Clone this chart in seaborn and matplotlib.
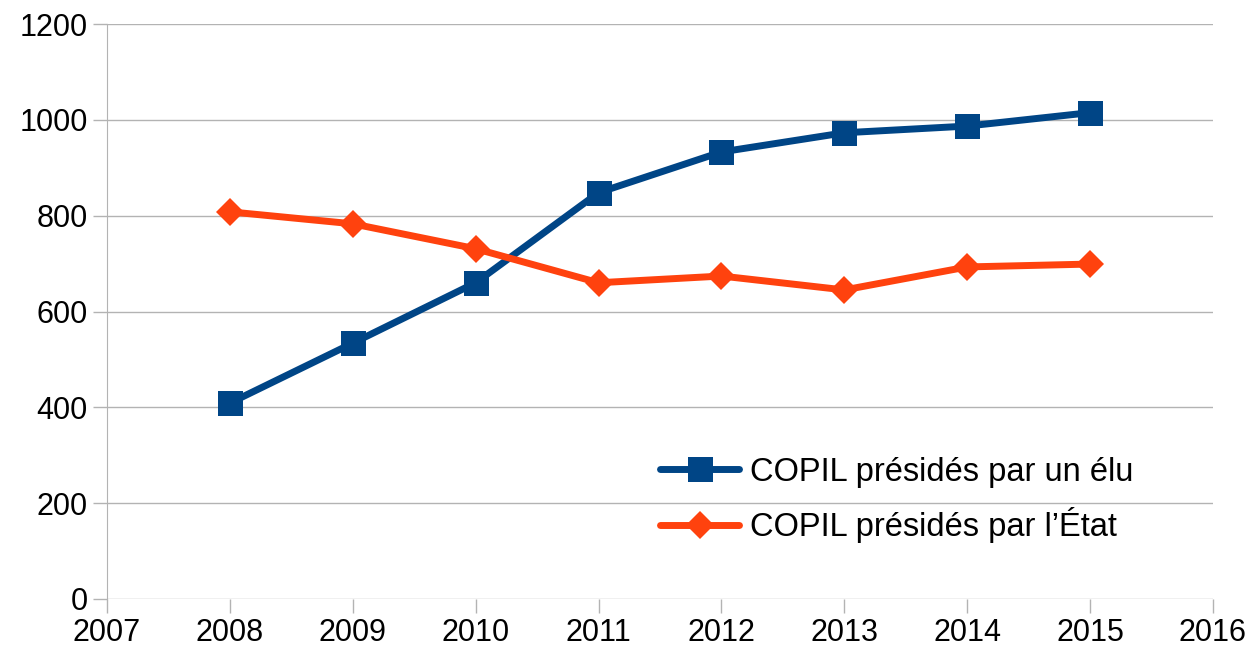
import matplotlib
matplotlib.use('Agg')
import matplotlib.pyplot as plt
import seaborn as sbn
import pandas as pd

years = [2008, 2009, 2010, 2011, 2012, 2013, 2014, 2015]
elu = [409, 534, 660, 848, 933, 973, 987, 1015]
etat = [808, 783, 731, 660, 674, 645, 693, 699]
labels = ['COPIL présidés par un élu', 'COPIL présidés par l\u2019État']

df = pd.DataFrame({'year': years + years,
                   'value': elu + etat,
                   'serie': [labels[0]] * len(years) + [labels[1]] * len(years)})

sbn.set_style('white')
plt.rcParams['font.family'] = ['Liberation Sans', 'DejaVu Sans']
plt.rcParams['text.color'] = 'black'

fig = plt.figure(figsize=(12.55, 6.51), dpi=100)
ax = fig.add_axes([107/1255, 1 - 599/651, (1213 - 107)/1255, (599 - 24)/651])

sbn.lineplot(data=df, x='year', y='value', hue='serie', style='serie',
             palette=['#004586', '#ff420e'], markers=['s', 'D'], dashes=False,
             linewidth=5, markersize=16, markeredgewidth=0, ax=ax)
# bigger squares than diamonds
for line, ms in zip(ax.lines, [18, 14]):
    line.set_markersize(ms)

ax.set_xlim(2007, 2016)
ax.set_ylim(0, 1200)
ax.set_xticks(range(2007, 2017))
ax.set_yticks(range(0, 1201, 200))
ax.set_xlabel('')
ax.set_ylabel('')
ax.grid(axis='y', color='#b3b3b3', linewidth=1)
ax.set_axisbelow(True)
for s in ['top', 'right', 'bottom']:
    ax.spines[s].set_visible(False)
ax.spines['left'].set_color('#b3b3b3')
ax.tick_params(axis='both', length=10, width=1, color='#b3b3b3', labelsize=22,
               labelcolor='black', direction='out', left=True, bottom=True, pad=4)

handles, _ = ax.get_legend_handles_labels()
for h, ms in zip(handles, [18, 14]):
    h.set_markersize(ms)
leg = ax.legend(handles=handles, labels=labels, frameon=False, fontsize=23.5,
                loc='center left', bbox_to_anchor=(631/1255, 1 - 500/651),
                bbox_transform=fig.transFigure, handlelength=2.4,
                labelspacing=0.6, handletextpad=0.35)
for t in leg.get_texts():
    t.set_color('black')

fig.savefig('out.png', dpi=100)
